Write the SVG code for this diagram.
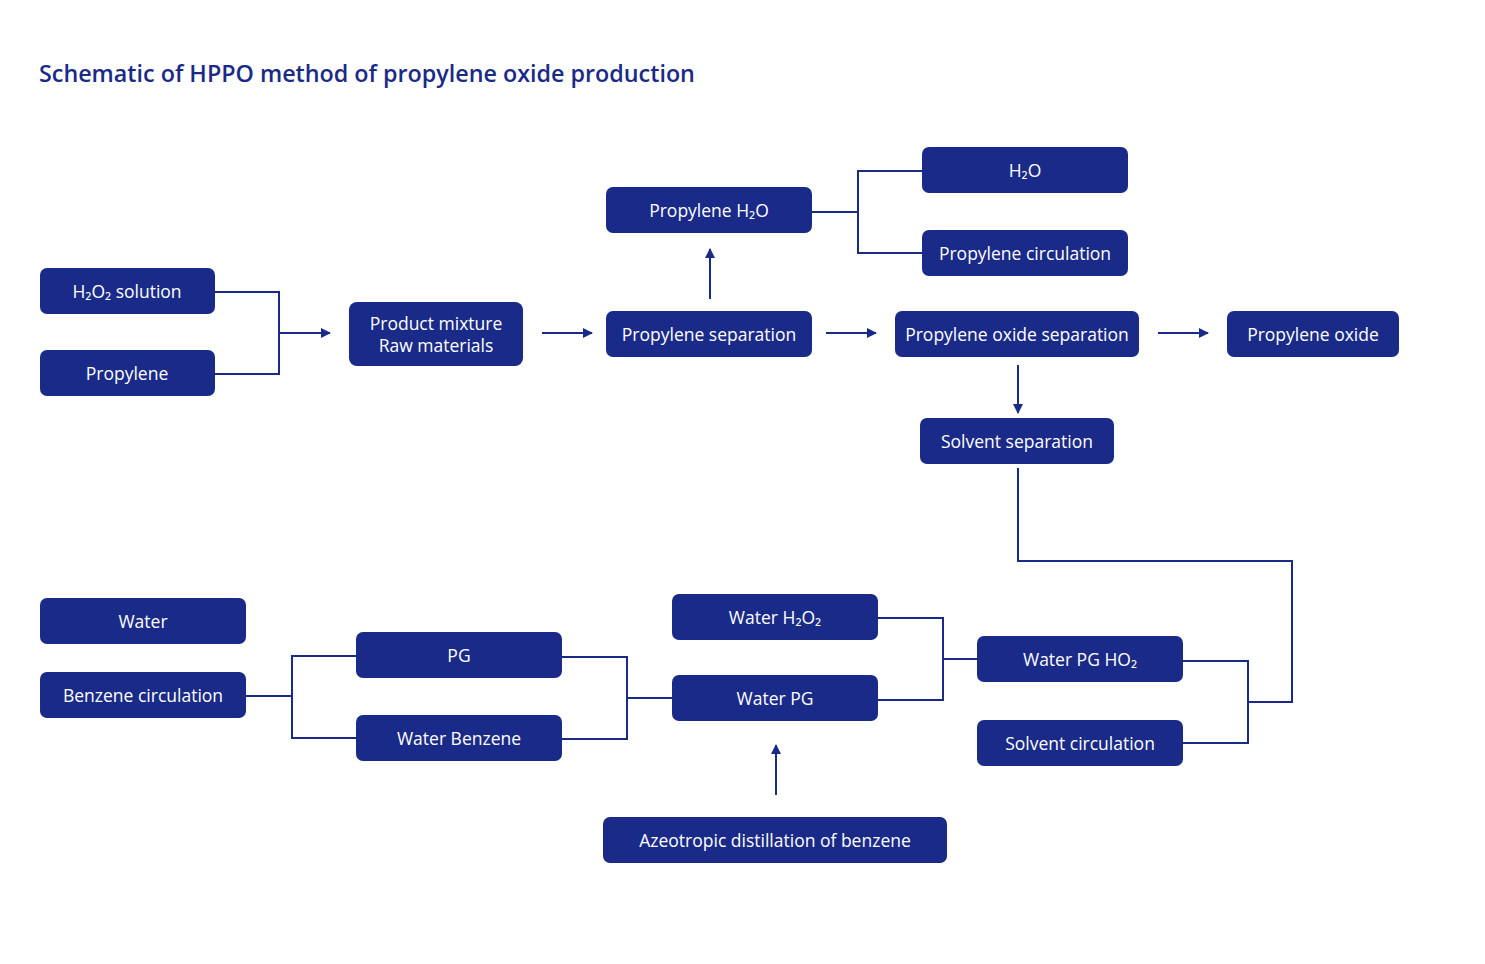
<svg xmlns="http://www.w3.org/2000/svg" width="1485" height="964" viewBox="0 0 1485 964">
<style>
.n rect{fill:#1a2a88;}
.n text{fill:#fff;font-family:"Open Sans","Noto Sans",sans-serif;font-size:17.5px;text-anchor:middle;dominant-baseline:central;}
.c path{fill:none;stroke:#1a2a88;stroke-width:2;}
.t{fill:#1a2a88;font-family:"Open Sans","Noto Sans",sans-serif;font-size:23.3px;font-weight:600;}
</style>
<defs>
<marker id="a" viewBox="0 0 10 10" refX="9" refY="5" markerWidth="5" markerHeight="5" orient="auto" markerUnits="strokeWidth">
<path d="M0,0 L10,5 L0,10 z" fill="#1a2a88"/>
</marker>
</defs>
<rect width="1485" height="964" fill="#fff"/>
<text class="t" x="39" y="82">Schematic of HPPO method of propylene oxide production</text>
<g class="c">
<path d="M215,292 H279 V374 H215"/>
<path d="M279,333 H330" marker-end="url(#a)"/>
<path d="M542,333 H592" marker-end="url(#a)"/>
<path d="M710,299 V249" marker-end="url(#a)"/>
<path d="M812,212 H858"/>
<path d="M922,171 H858 V253 H922"/>
<path d="M826,333 H876" marker-end="url(#a)"/>
<path d="M1158,333 H1208" marker-end="url(#a)"/>
<path d="M1018,365 V413" marker-end="url(#a)"/>
<path d="M1018,468 V561 H1292 V702 H1248"/>
<path d="M1183,661 H1248 V743 H1183"/>
<path d="M878,618 H943 V700 H878"/>
<path d="M943,659 H977"/>
<path d="M672,698 H627"/>
<path d="M562,657 H627 V739 H562"/>
<path d="M356,656 H292 V738 H356"/>
<path d="M246,696 H292"/>
<path d="M776,795 V745" marker-end="url(#a)"/>
</g>
<g id="h2o2sol" class="n"><rect x="40" y="268" width="175" height="46" rx="7"/><text x="127" y="291">H₂O₂ solution</text></g>
<g id="propylene" class="n"><rect x="40" y="350" width="175" height="46" rx="7"/><text x="127" y="373">Propylene</text></g>
<g id="mixture" class="n"><rect x="349" y="302" width="174" height="64" rx="8"/><text x="436" y="323">Product mixture</text><text x="436" y="345">Raw materials</text></g>
<g id="propsep" class="n"><rect x="606" y="311" width="206" height="46" rx="7"/><text x="709" y="334">Propylene separation</text></g>
<g id="proph2o" class="n"><rect x="606" y="187" width="206" height="46" rx="7"/><text x="709" y="210">Propylene H₂O</text></g>
<g id="h2o" class="n"><rect x="922" y="147" width="206" height="46" rx="7"/><text x="1025" y="170">H₂O</text></g>
<g id="propcirc" class="n"><rect x="922" y="230" width="206" height="46" rx="7"/><text x="1025" y="253">Propylene circulation</text></g>
<g id="posep" class="n"><rect x="895" y="311" width="244" height="46" rx="7"/><text x="1017" y="334">Propylene oxide separation</text></g>
<g id="po" class="n"><rect x="1227" y="311" width="172" height="46" rx="7"/><text x="1313" y="334">Propylene oxide</text></g>
<g id="solvsep" class="n"><rect x="920" y="418" width="194" height="46" rx="7"/><text x="1017" y="441">Solvent separation</text></g>
<g id="water" class="n"><rect x="40" y="598" width="206" height="46" rx="7"/><text x="143" y="621">Water</text></g>
<g id="benzcirc" class="n"><rect x="40" y="672" width="206" height="46" rx="7"/><text x="143" y="695">Benzene circulation</text></g>
<g id="pg" class="n"><rect x="356" y="632" width="206" height="46" rx="7"/><text x="459" y="655">PG</text></g>
<g id="waterbenz" class="n"><rect x="356" y="715" width="206" height="46" rx="7"/><text x="459" y="738">Water Benzene</text></g>
<g id="waterh2o2" class="n"><rect x="672" y="594" width="206" height="46" rx="7"/><text x="775" y="617">Water H₂O₂</text></g>
<g id="waterpg" class="n"><rect x="672" y="675" width="206" height="46" rx="7"/><text x="775" y="698">Water PG</text></g>
<g id="waterpgho2" class="n"><rect x="977" y="636" width="206" height="46" rx="7"/><text x="1080" y="659">Water PG HO₂</text></g>
<g id="solvcirc" class="n"><rect x="977" y="720" width="206" height="46" rx="7"/><text x="1080" y="743">Solvent circulation</text></g>
<g id="azeo" class="n"><rect x="603" y="817" width="344" height="46" rx="7"/><text x="775" y="840">Azeotropic distillation of benzene</text></g>
</svg>
